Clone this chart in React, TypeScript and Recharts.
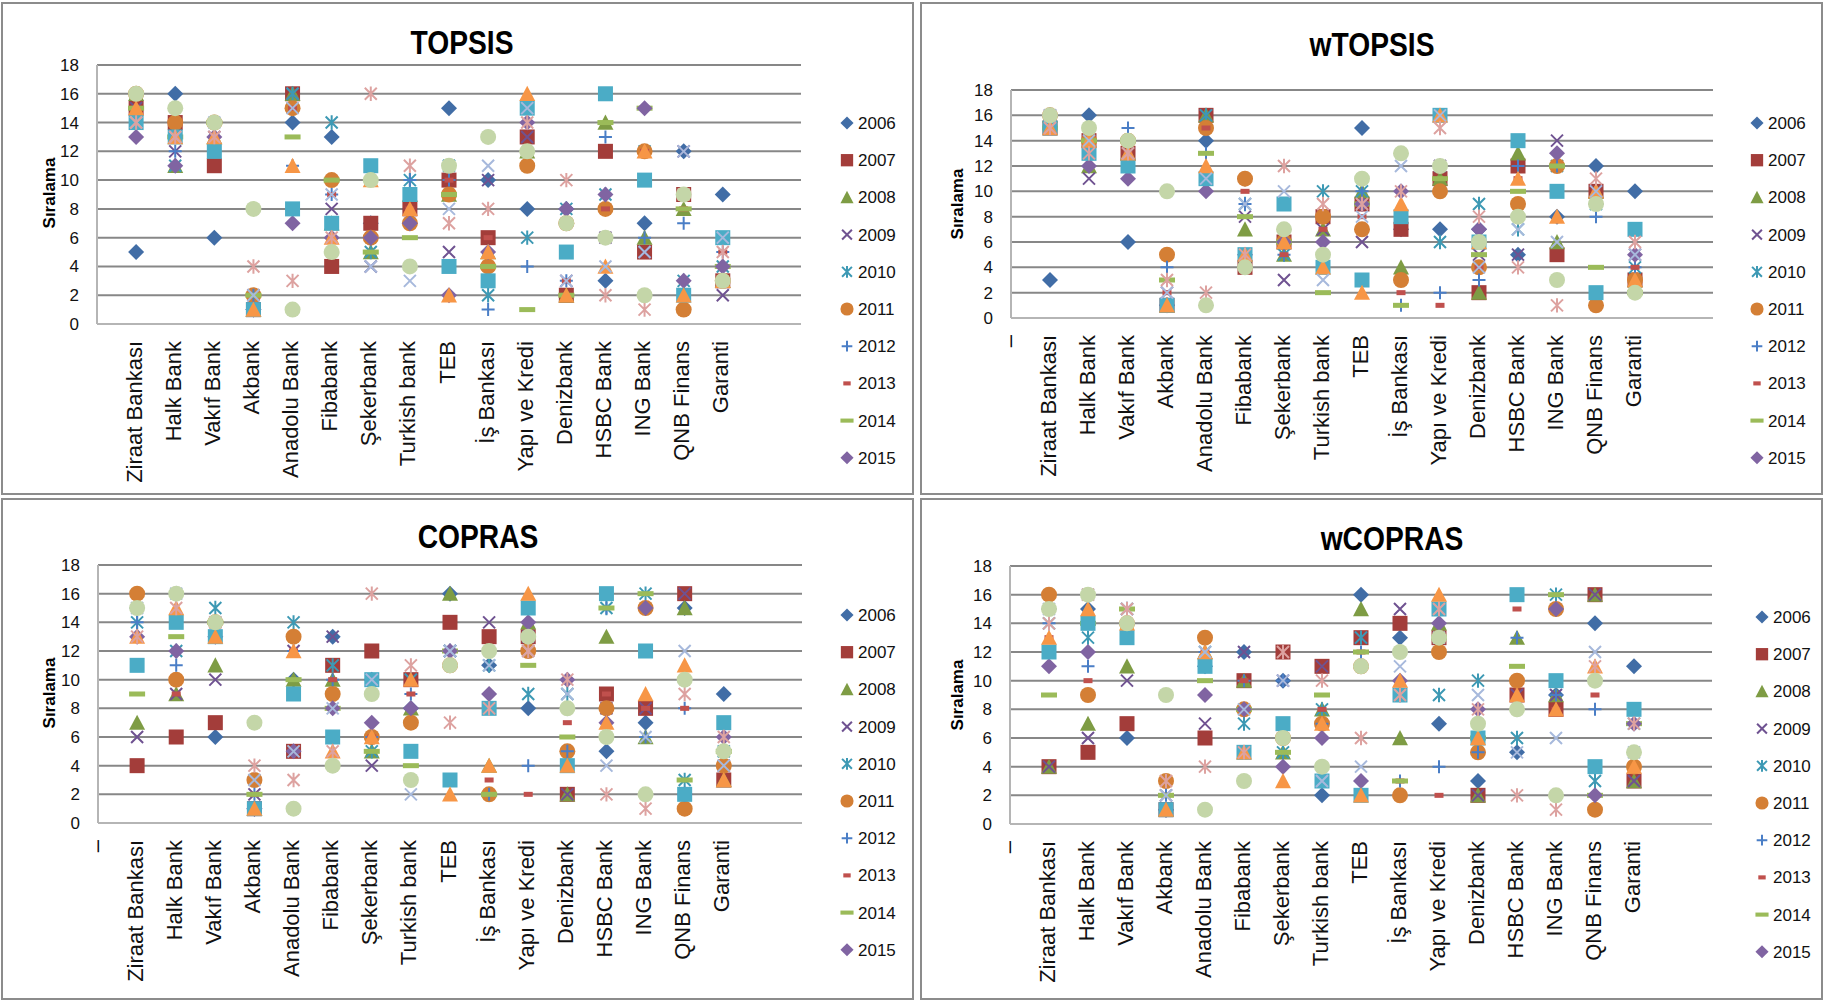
import { ScatterChart, Scatter, XAxis, YAxis, CartesianGrid } from 'recharts'

const banks = ['Ziraat Bankası', 'Halk Bank', 'Vakıf Bank', 'Akbank', 'Anadolu Bank', 'Fibabank', 'Şekerbank', 'Turkish bank', 'TEB', 'İş Bankası', 'Yapı ve Kredi', 'Denizbank', 'HSBC Bank', 'ING Bank', 'QNB Finans', 'Garanti']
const years = [2006, 2007, 2008, 2009, 2010, 2011, 2012, 2013, 2014, 2015, 2016, 2017, 2018, 2019, 2020]
const legendYears = [2006, 2007, 2008, 2009, 2010, 2011, 2012, 2013, 2014, 2015]
const yTicks = [0, 2, 4, 6, 8, 10, 12, 14, 16, 18]
const xTicks = [0, 1, 2, 3, 4, 5, 6, 7, 8, 9, 10, 11, 12, 13, 14, 15, 16]

// one row per year (2006..2020), one value per bank
const topsis = [
  [5, 16, 6, 1, 14, 13, 7, 8, 15, 10, 8, 8, 3, 7, 12, 9],
  [15, 14, 11, 1, 16, 4, 7, 8, 10, 6, 13, 2, 12, 5, 9, 3],
  [16, 11, 13, 1, 16, 7, 5, 9, 9, 5, 12, 2, 14, 6, 8, 3],
  [15, 12, 13, 2, 16, 8, 4, 9, 5, 10, 13, 3, 6, 5, 12, 2],
  [14, 11, 12, 1, 16, 14, 5, 10, 11, 2, 6, 8, 9, 12, 3, 4],
  [16, 14, 14, 2, 15, 10, 6, 7, 9, 4, 11, 7, 8, 12, 1, 3],
  [16, 12, 14, 2, 11, 9, 6, 10, 10, 1, 4, 3, 13, 6, 7, 5],
  [15, 13, 13, 1, 15, 9, 6, 8, 10, 6, 12, 3, 8, 12, 8, 5],
  [15, 13, 14, 2, 13, 10, 5, 6, 9, 4, 1, 2, 14, 15, 8, 4],
  [13, 11, 13, 1, 7, 6, 6, 7, 2, 5, 14, 8, 9, 15, 3, 4],
  [14, 13, 12, 1, 8, 7, 11, 9, 4, 3, 15, 5, 16, 10, 2, 6],
  [15, 13, 13, 1, 11, 6, 10, 8, 2, 5, 16, 2, 4, 12, 2, 3],
  [14, 13, 14, 2, 15, 9, 4, 3, 8, 11, 15, 3, 4, 5, 12, 6],
  [14, 13, 13, 4, 3, 6, 16, 11, 7, 8, 14, 10, 2, 1, 9, 5],
  [16, 15, 14, 8, 1, 5, 10, 4, 11, 13, 12, 7, 6, 2, 9, 3],
]

const wtopsis = [
  [3, 16, 6, 1, 14, 11, 6, 8, 15, 7, 7, 7, 5, 8, 12, 10],
  [15, 14, 13, 1, 16, 4, 6, 8, 9, 7, 11, 2, 12, 5, 10, 3],
  [16, 12, 13, 1, 16, 7, 5, 7, 10, 4, 11, 2, 13, 6, 10, 3],
  [16, 11, 12, 2, 16, 8, 3, 7, 6, 8, 12, 5, 5, 14, 10, 5],
  [15, 13, 12, 1, 16, 9, 5, 10, 10, 8, 6, 9, 7, 12, 9, 4],
  [16, 14, 14, 5, 15, 11, 6, 8, 7, 3, 10, 4, 9, 12, 1, 3],
  [16, 13, 15, 4, 13, 9, 5, 6, 10, 1, 2, 3, 12, 12, 8, 4],
  [16, 12, 13, 2, 15, 10, 5, 7, 8, 2, 1, 4, 11, 13, 10, 4],
  [15, 14, 14, 3, 13, 8, 6, 2, 9, 1, 11, 5, 10, 12, 4, 2],
  [16, 12, 11, 1, 10, 5, 6, 6, 9, 10, 12, 7, 8, 13, 9, 5],
  [15, 13, 12, 1, 11, 5, 9, 4, 3, 8, 16, 6, 14, 10, 2, 7],
  [15, 14, 13, 1, 12, 5, 6, 4, 2, 9, 16, 6, 11, 8, 10, 3],
  [16, 14, 13, 2, 11, 9, 10, 3, 8, 12, 16, 4, 7, 6, 10, 5],
  [15, 13, 13, 3, 2, 5, 12, 9, 9, 10, 15, 8, 4, 1, 11, 6],
  [16, 15, 14, 10, 1, 4, 7, 5, 11, 13, 12, 6, 8, 3, 9, 2],
]

const copras = [
  [15, 16, 6, 1, 10, 13, 10, 8, 16, 11, 8, 8, 5, 7, 15, 9],
  [4, 6, 7, 1, 5, 11, 12, 10, 14, 13, 13, 2, 9, 8, 16, 3],
  [7, 9, 11, 1, 10, 10, 5, 8, 16, 4, 14, 2, 13, 6, 15, 3],
  [6, 9, 10, 2, 12, 13, 4, 10, 12, 14, 13, 2, 8, 8, 16, 4],
  [14, 12, 15, 1, 14, 11, 5, 10, 12, 11, 9, 9, 15, 16, 3, 5],
  [16, 10, 14, 3, 13, 9, 6, 7, 11, 2, 12, 5, 8, 15, 1, 4],
  [14, 11, 14, 2, 12, 10, 6, 9, 12, 2, 4, 5, 15, 6, 8, 5],
  [13, 9, 13, 2, 12, 10, 6, 9, 12, 3, 2, 7, 9, 8, 8, 6],
  [9, 13, 14, 2, 10, 8, 5, 4, 12, 2, 11, 6, 15, 16, 3, 5],
  [13, 12, 13, 1, 5, 8, 7, 8, 12, 9, 14, 10, 7, 15, 2, 6],
  [11, 14, 13, 1, 9, 6, 10, 5, 3, 8, 15, 4, 16, 12, 2, 7],
  [13, 15, 13, 1, 12, 5, 6, 10, 2, 4, 16, 4, 7, 9, 11, 3],
  [15, 16, 14, 3, 5, 8, 10, 2, 12, 11, 12, 9, 4, 6, 12, 4],
  [13, 15, 14, 4, 3, 5, 16, 11, 7, 8, 12, 10, 2, 1, 9, 6],
  [15, 16, 14, 7, 1, 4, 9, 3, 11, 12, 13, 8, 6, 2, 10, 5],
]

const wcopras = [
  [15, 15, 6, 1, 11, 12, 10, 2, 16, 13, 7, 3, 5, 9, 14, 11],
  [4, 5, 7, 1, 6, 10, 12, 11, 13, 14, 13, 2, 9, 8, 16, 3],
  [4, 7, 11, 1, 12, 10, 5, 8, 15, 6, 14, 2, 13, 9, 16, 3],
  [4, 6, 10, 2, 7, 12, 10, 11, 13, 15, 15, 2, 9, 9, 16, 3],
  [14, 13, 15, 1, 12, 7, 5, 8, 13, 9, 9, 10, 6, 16, 3, 7],
  [16, 9, 14, 3, 13, 8, 6, 7, 11, 2, 12, 5, 10, 15, 1, 4],
  [14, 11, 14, 2, 12, 10, 10, 7, 12, 3, 4, 5, 13, 9, 8, 7],
  [13, 10, 13, 2, 12, 10, 6, 8, 12, 3, 2, 7, 15, 8, 9, 7],
  [9, 14, 15, 2, 10, 8, 5, 9, 12, 3, 13, 6, 11, 16, 2, 7],
  [11, 12, 14, 1, 9, 8, 4, 6, 3, 10, 14, 8, 8, 15, 2, 7],
  [12, 14, 13, 1, 11, 5, 7, 3, 2, 9, 15, 6, 16, 10, 4, 8],
  [13, 15, 14, 1, 12, 5, 3, 7, 2, 10, 16, 6, 9, 8, 11, 4],
  [15, 16, 15, 2, 12, 8, 10, 3, 4, 11, 13, 9, 5, 6, 12, 5],
  [14, 16, 15, 3, 4, 5, 12, 10, 6, 9, 15, 8, 2, 1, 11, 7],
  [15, 16, 14, 9, 1, 3, 6, 4, 11, 12, 13, 7, 8, 2, 10, 5],
]

const marks = [
  { kind: 'diamond', color: '#416DA6' },
  { kind: 'square', color: '#A33D3A' },
  { kind: 'triangle', color: '#7E9C44' },
  { kind: 'x', color: '#6F5291' },
  { kind: 'star', color: '#3D99B4' },
  { kind: 'circle', color: '#D47F35' },
  { kind: 'plus', color: '#4A7EC6' },
  { kind: 'dash', color: '#C0504D' },
  { kind: 'longdash', color: '#9BBB59' },
  { kind: 'diamond', color: '#8064A2' },
  { kind: 'square', color: '#4BACC6' },
  { kind: 'triangle', color: '#F79646' },
  { kind: 'x', color: '#A7B9DC' },
  { kind: 'star', color: '#DDA2A0' },
  { kind: 'circle', color: '#C4D6A8' },
]

const FONT = '"Liberation Sans", Arial, sans-serif'

function Glyph({ cx, cy, kind, color, s = 1 }: any) {
  if (cx == null || cy == null) return null
  const k = (v: number) => v * s
  if (kind === 'diamond') {
    const r = k(8)
    return <path d={`M${cx} ${cy - r}L${cx + r} ${cy}L${cx} ${cy + r}L${cx - r} ${cy}Z`} fill={color} />
  }
  if (kind === 'square') {
    const r = k(7.5)
    return <rect x={cx - r} y={cy - r} width={2 * r} height={2 * r} fill={color} />
  }
  if (kind === 'triangle') {
    const r = k(8)
    return <path d={`M${cx} ${cy - r}L${cx + r} ${cy + r * 0.9}L${cx - r} ${cy + r * 0.9}Z`} fill={color} />
  }
  if (kind === 'circle') return <circle cx={cx} cy={cy} r={k(8)} fill={color} />
  if (kind === 'x') {
    const r = k(6)
    return <path d={`M${cx - r} ${cy - r}L${cx + r} ${cy + r}M${cx + r} ${cy - r}L${cx - r} ${cy + r}`} stroke={color} strokeWidth={2} />
  }
  if (kind === 'star') {
    const r = k(6)
    return <path d={`M${cx - r} ${cy - r}L${cx + r} ${cy + r}M${cx + r} ${cy - r}L${cx - r} ${cy + r}M${cx} ${cy - r * 1.2}L${cx} ${cy + r * 1.2}`} stroke={color} strokeWidth={2} />
  }
  if (kind === 'plus') {
    const r = k(6.5)
    return <path d={`M${cx - r} ${cy}L${cx + r} ${cy}M${cx} ${cy - r}L${cx} ${cy + r}`} stroke={color} strokeWidth={2} />
  }
  if (kind === 'dash') return <rect x={cx - k(4.5)} y={cy - k(2.5)} width={k(9)} height={k(5)} fill={color} />
  return <rect x={cx - k(8)} y={cy - k(2.5)} width={k(16)} height={k(5)} fill={color} />
}

function BankTick({ x, y, payload, dash }: any) {
  const i = payload.value
  const label = i === 0 ? (dash ? '–' : '') : banks[i - 1]
  return (
    <text x={x} y={y} transform={`rotate(-90 ${x} ${y})`} textAnchor="end" dy="0.25em" fontSize={22} fontFamily={FONT} fill="#111">
      {label}
    </text>
  )
}

const panels = [
  { title: 'TOPSIS', rows: topsis, box: [1, 2, 913, 493], plot: [97, 65, 801, 324], titleAt: [462, 42], legendAt: [847, 123], labelAt: [50, 193], dash: false },
  { title: 'wTOPSIS', rows: wtopsis, box: [920, 2, 903, 493], plot: [1011, 90, 1713, 318], titleAt: [1372, 44], legendAt: [1757, 123], labelAt: [958, 204], dash: true },
  { title: 'COPRAS', rows: copras, box: [1, 498, 913, 502], plot: [98, 565, 802, 823], titleAt: [478, 536], legendAt: [847, 615], labelAt: [50, 693], dash: true },
  { title: 'wCOPRAS', rows: wcopras, box: [920, 498, 903, 502], plot: [1010, 566, 1712, 824], titleAt: [1392, 538], legendAt: [1762, 617], labelAt: [958, 695], dash: true },
]

function Panel({ p }: any) {
  const [bx, by, bw, bh] = p.box
  const [pl, pt, pr, pb] = p.plot
  const yw = 40
  const xh = 160
  return (
    <>
      <div style={{ position: 'absolute', left: bx, top: by, width: bw - 4, height: bh - 4, border: '2px solid #8c8c8c' }} />
      <div style={{ position: 'absolute', left: bx, top: by }}>
        <ScatterChart width={bw} height={bh} margin={{ left: pl - bx - yw, top: pt - by, right: bx + bw - pr, bottom: by + bh - pb - xh }}>
          <CartesianGrid vertical={false} stroke="#878787" strokeWidth={2} />
          <XAxis type="number" dataKey="x" domain={[0, 18]} ticks={xTicks} interval={0} height={xh} tickLine={false} tickSize={8} tickMargin={9}
            axisLine={{ stroke: '#b5b5b5', strokeWidth: 2 }} tick={<BankTick dash={p.dash} />} />
          <YAxis type="number" dataKey="y" domain={[0, 18]} ticks={yTicks} interval={0} width={yw} tickLine={false} tickSize={16} tickMargin={2}
            axisLine={{ stroke: '#b5b5b5', strokeWidth: 2 }} tick={{ fontSize: 17, fill: '#111', fontFamily: FONT }} />
          {years.map((yr, k) => (
            <Scatter key={yr} name={String(yr)} data={banks.map((b, i) => ({ x: i + 1, y: p.rows[k][i], bank: b }))} isAnimationActive={false}
              shape={(s: any) => <Glyph cx={s.cx} cy={s.cy} kind={marks[k].kind} color={marks[k].color} />} />
          ))}
        </ScatterChart>
      </div>
      <div style={{ position: 'absolute', left: p.titleAt[0], top: p.titleAt[1], transform: 'translate(-50%, -50%) scaleX(0.83)', fontFamily: FONT, fontWeight: 'bold', fontSize: 34, whiteSpace: 'nowrap', color: '#000' }}>
        {p.title}
      </div>
      <div style={{ position: 'absolute', left: p.labelAt[0], top: p.labelAt[1], transform: 'translate(-50%, -50%) rotate(-90deg)', fontFamily: FONT, fontWeight: 'bold', fontSize: 17, whiteSpace: 'nowrap', color: '#000' }}>
        Sıralama
      </div>
      <svg style={{ position: 'absolute', left: p.legendAt[0] - 12, top: p.legendAt[1] - 14 }} width={80} height={370}>
        {legendYears.map((yr, i) => (
          <g key={yr}>
            <Glyph cx={12} cy={14 + i * 37.2} kind={marks[i].kind} color={marks[i].color} s={0.82} />
            <text x={23} y={14 + i * 37.2} dy="0.35em" fontSize={17} fontFamily={FONT} fill="#111">{yr}</text>
          </g>
        ))}
      </svg>
    </>
  )
}

export default function App() {
  return (
    <div style={{ position: 'absolute', left: 0, top: 0, width: 1827, height: 1003, background: '#fff', overflow: 'hidden' }}>
      {panels.map((p) => <Panel key={p.title} p={p} />)}
    </div>
  )
}
